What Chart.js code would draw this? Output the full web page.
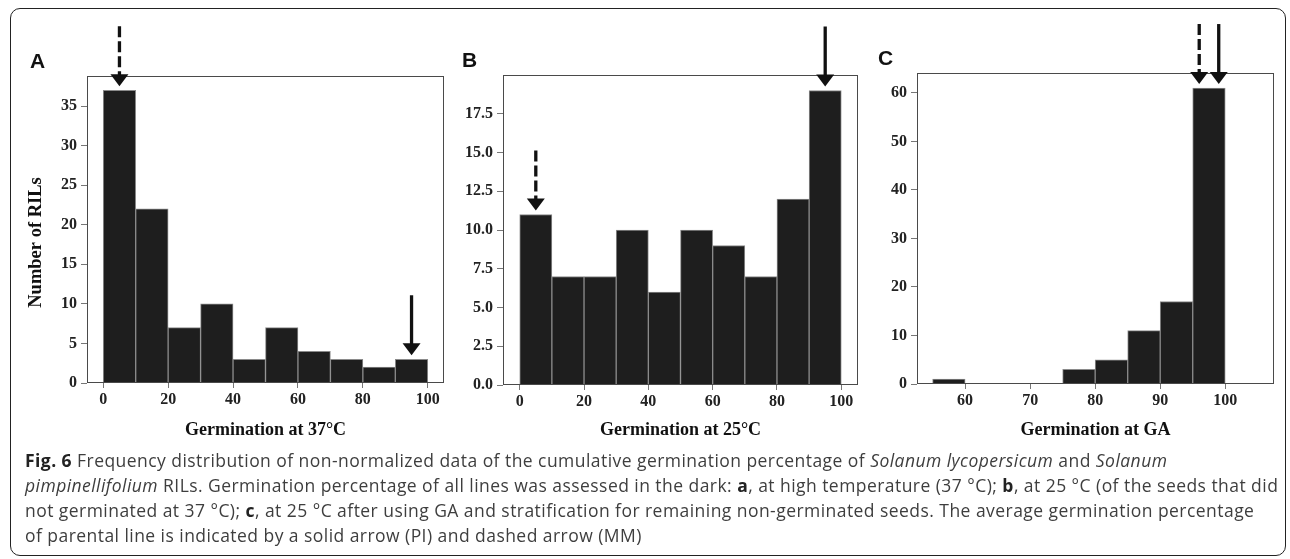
<!DOCTYPE html>
<html>
<head>
<meta charset="utf-8">
<script src="https://cdn.jsdelivr.net/npm/chart.js@4.4.1/dist/chart.umd.min.js"></script>
<style>
    html, body { margin: 0; padding: 0; background: #fff; }
    body { width: 1290px; height: 559px; position: relative; overflow: hidden; }
    .frame {
        position: absolute; left: 10px; top: 8px; width: 1276px; height: 548px;
        border: 1.5px solid #222; border-radius: 10px; box-sizing: border-box;
    }
    canvas { position: absolute; top: 15px; }
    #caption {
        position: absolute; left: 25px; top: 448px;
        font-family: "Open Sans", sans-serif; font-size: 17.5px; letter-spacing: 0.45px;
        line-height: 25px; color: #3e3e3e; white-space: nowrap;
    }
    #caption b { color: #222; }
</style>
</head>
<body>
<div class="frame"></div>
<canvas id="chartA" width="432" height="435" style="left:18px"></canvas>
<canvas id="chartB" width="411" height="435" style="left:455px"></canvas>
<canvas id="chartC" width="410" height="435" style="left:870px"></canvas>
<div id="caption">
<b>Fig. 6</b> Frequency distribution of non-normalized data of the cumulative germination percentage of <i>Solanum lycopersicum</i> and <i>Solanum</i><br>
<i>pimpinellifolium</i> RILs. Germination percentage of all lines was assessed in the dark: <b>a</b>, at high temperature (37 °C); <b>b</b>, at 25 °C (of the seeds that did<br>
not germinated at 37 °C); <b>c</b>, at 25 °C after using GA and stratification for remaining non-germinated seeds. The average germination percentage<br>
of parental line is indicated by a solid arrow (PI) and dashed arrow (MM)
</div>
<script>
// ===== DATA =====
const edgesA = [0, 10, 20, 30, 40, 50, 60, 70, 80, 90, 100];
const countsA = [37, 22, 7, 10, 3, 7, 4, 3, 2, 3];
const edgesB = [0, 10, 20, 30, 40, 50, 60, 70, 80, 90, 100];
const countsB = [11, 7, 7, 10, 6, 10, 9, 7, 12, 19];
const edgesC = [55, 60, 65, 70, 75, 80, 85, 90, 95, 100];
const countsC = [1, 0, 0, 0, 3, 5, 11, 17, 61];

const xTicksA = [0, 20, 40, 60, 80, 100];
const yTicksA = [0, 5, 10, 15, 20, 25, 30, 35];
const xTicksB = [0, 20, 40, 60, 80, 100];
const yTicksB = [0, 2.5, 5, 7.5, 10, 12.5, 15, 17.5];
const xTicksC = [60, 70, 80, 90, 100];
const yTicksC = [0, 10, 20, 30, 40, 50, 60];

const xTitles = ['Germination at 37°C', 'Germination at 25°C', 'Germination at GA'];
const yTitle = 'Number of RILs';

// parental means: solid = PI, dashed = MM (x = germination %, y = bar it points at)
const arrowsA = [{ x: 5, y: 37, dashed: true }, { x: 95, y: 3, dashed: false }];
const arrowsB = [{ x: 5, y: 11, dashed: true }, { x: 95, y: 19, dashed: false }];
const arrowsC = [{ x: 96, y: 61, dashed: true }, { x: 99, y: 61, dashed: false }];

const SERIF = '"Liberation Serif", "Times New Roman", serif';

// letter, arrows, box and the rotated y title
const panelDecor = {
    id: 'panelDecor',
    afterDraw(chart, args, opts) {
        const { ctx, chartArea: a, scales: { x, y } } = chart;
        ctx.save();

        ctx.strokeStyle = '#4a4a4a';
        ctx.lineWidth = 1;
        ctx.strokeRect(a.left + 0.5, a.top + 0.5, a.right - a.left - 1, a.bottom - a.top - 1);

        ctx.fillStyle = '#111';
        ctx.font = 'bold 21px "Liberation Sans", Arial, sans-serif';
        ctx.textBaseline = 'alphabetic';
        ctx.textAlign = 'left';
        ctx.fillText(opts.letter, a.left + opts.letterDx, a.top - 8);

        (opts.arrows || []).forEach(ar => {
            const px = x.getPixelForValue(ar.x);
            const tip = y.getPixelForValue(ar.y) - 4;
            ctx.strokeStyle = '#111';
            ctx.lineWidth = 3.3;
            ctx.setLineDash(ar.dashed ? [11, 4] : []);
            ctx.beginPath();
            ctx.moveTo(px, tip - 60);
            ctx.lineTo(px, tip - 11);
            ctx.stroke();
            ctx.setLineDash([]);
            ctx.fillStyle = '#111';
            ctx.beginPath();
            ctx.moveTo(px - 9, tip - 12);
            ctx.lineTo(px + 9, tip - 12);
            ctx.lineTo(px, tip);
            ctx.closePath();
            ctx.fill();
        });

        if (opts.yTitle) {
            ctx.translate(a.left - 51, (a.top + a.bottom) / 2 + 13);
            ctx.rotate(-Math.PI / 2);
            ctx.font = 'bold 18.5px ' + SERIF;
            ctx.fillStyle = '#111';
            ctx.textAlign = 'center';
            ctx.textBaseline = 'middle';
            ctx.fillText(opts.yTitle, 0, 0);
        }
        ctx.restore();
    }
};

function makePanel(id, edges, counts, cfg) {
    const bars = counts.map((c, i) => ({ x: (edges[i] + edges[i + 1]) / 2, y: c }));
    return new Chart(document.getElementById(id), {
        type: 'bar',
        data: {
            datasets: [{
                data: bars,
                backgroundColor: '#1e1e1e',
                borderColor: '#8a8a8a',
                borderWidth: { top: 1, left: 1, right: 1, bottom: 0 },
                borderSkipped: false,
                barPercentage: 1,
                categoryPercentage: 1
            }]
        },
        plugins: [panelDecor],
        options: {
            responsive: false,
            animation: false,
            layout: { padding: { top: cfg.padTop, right: cfg.padRight, left: 0, bottom: 0 } },
            plugins: {
                legend: { display: false },
                tooltip: { enabled: false },
                panelDecor: { letter: cfg.letter, letterDx: cfg.letterDx, arrows: cfg.arrows, yTitle: cfg.yTitle }
            },
            scales: {
                x: {
                    type: 'linear',
                    min: cfg.xMin,
                    max: cfg.xMax,
                    offset: false,
                    afterBuildTicks: s => { s.ticks = cfg.xTicks.map(v => ({ value: v })); },
                    afterFit: s => { s.height = cfg.xH; },
                    grid: { drawOnChartArea: false, tickLength: 5, tickColor: '#777', offset: false },
                    border: { display: false },
                    ticks: {
                        font: { family: SERIF, size: 16, weight: 'bold' },
                        color: '#222', padding: 2, maxRotation: 0, autoSkip: false
                    },
                    title: {
                        display: true, text: cfg.xTitle, color: '#111',
                        font: { family: SERIF, size: 18, weight: 'bold' },
                        padding: { top: 0, bottom: 9 }
                    }
                },
                y: {
                    min: 0,
                    max: cfg.yMax,
                    afterBuildTicks: s => { s.ticks = cfg.yTicks.map(v => ({ value: v })); },
                    afterFit: s => { s.width = cfg.yW; },
                    grid: { drawOnChartArea: false, tickLength: 6, tickColor: '#777' },
                    border: { display: false },
                    ticks: {
                        font: { family: SERIF, size: 16, weight: 'bold' },
                        color: '#222', padding: 4,
                        callback: v => cfg.decimals ? v.toFixed(cfg.decimals) : v
                    }
                }
            }
        }
    });
}

window.onload = function () {
    makePanel('chartA', edgesA, countsA, {
        letter: 'A', letterDx: -57, arrows: arrowsA, yTitle: yTitle,
        xTicks: xTicksA, yTicks: yTicksA, xMin: -5, xMax: 105, yMax: 38.8,
        xTitle: xTitles[0], padTop: 61, padRight: 6, yW: 69, xH: 67, decimals: 0
    });
    makePanel('chartB', edgesB, countsB, {
        letter: 'B', letterDx: -41, arrows: arrowsB,
        xTicks: xTicksB, yTicks: yTicksB, xMin: -5.2, xMax: 105.2, yMax: 20,
        xTitle: xTitles[1], padTop: 60, padRight: 8, yW: 48, xH: 65, decimals: 1
    });
    makePanel('chartC', edgesC, countsC, {
        letter: 'C', letterDx: -39, arrows: arrowsC,
        xTicks: xTicksC, yTicks: yTicksC, xMin: 52.6, xMax: 107.5, yMax: 64.1,
        xTitle: xTitles[2], padTop: 58, padRight: 6, yW: 47, xH: 66, decimals: 0
    });
};
</script>
</body>
</html>
